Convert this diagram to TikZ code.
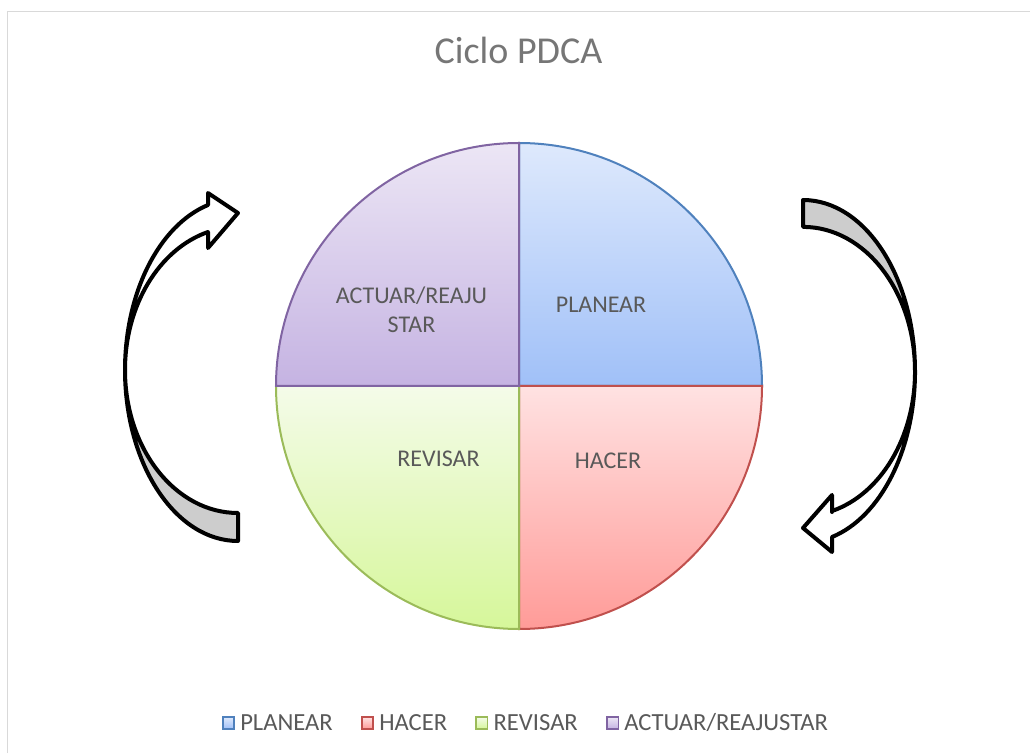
\documentclass[tikz,border=0pt]{standalone}
\usepackage{fontspec}
\setmainfont{Carlito}
\usetikzlibrary{positioning}
\definecolor{txtgray}{RGB}{89,89,89}
\definecolor{titlegray}{RGB}{118,118,118}
\definecolor{framegray}{RGB}{217,217,217}
\definecolor{backgray}{RGB}{205,205,205}
\definecolor{planline}{RGB}{79,129,189}
\definecolor{plantop}{RGB}{222,233,252}
\definecolor{planbot}{RGB}{160,192,248}
\definecolor{hacline}{RGB}{192,80,77}
\definecolor{hactop}{RGB}{255,226,226}
\definecolor{hacbot}{RGB}{255,155,152}
\definecolor{revline}{RGB}{155,187,89}
\definecolor{revtop}{RGB}{244,251,233}
\definecolor{revbot}{RGB}{214,247,154}
\definecolor{actline}{RGB}{128,100,162}
\definecolor{acttop}{RGB}{236,230,245}
\definecolor{actbot}{RGB}{197,179,226}

\begin{document}
\begin{tikzpicture}[
            x=1pt, y=1pt,
            lbl/.style={font=\fontsize{24}{29}\selectfont, text=txtgray, inner sep=0pt, align=center},
            legtext/.style={lbl, font=\fontsize{24.6}{29}\selectfont, text height=15.8pt, text depth=0pt},
            slice/.style={line width=2pt, draw=#1line, top color=#1top, bottom color=#1bot},
            lgbox/.style={draw=#1line, line width=1.6pt, top color=#1top, bottom color=#1bot, minimum size=11.5pt, inner sep=0pt},
            rib/.style={draw=black, line width=4pt, line join=round}
        ]
            \useasboundingbox (0,0) rectangle (1030,753);
            \draw[framegray, line width=1pt] (7,0) -- (7,741) -- (1030,741);

            \node[font=\fontsize{38}{46}\selectfont, text=titlegray, inner sep=0pt] (title) at (518.5,703) {Ciclo PDCA};

            % pie
            \coordinate (o) at (519,367);
            \draw[slice=plan] (o) -- ++(243,0) arc[start angle=0, end angle=90, radius=243pt] -- cycle;
            \draw[slice=hac] (o) -- ++(0,-243) arc[start angle=270, end angle=360, radius=243pt] -- cycle;
            \draw[slice=rev] (o) -- ++(-243,0) arc[start angle=180, end angle=270, radius=243pt] -- cycle;
            \draw[slice=act] (o) -- ++(0,243) arc[start angle=90, end angle=180, radius=243pt] -- cycle;

            \node[lbl] (planear) at (601,448.5) {PLANEAR};
            \node[lbl] (hacer) at (608,292.5) {HACER};
            \node[lbl] (revisar) at (438.5,294) {REVISAR};
            \node[lbl] (actuar) at (411.5,443) {ACTUAR/REAJU\\STAR};

            % left arrow
            \draw[rib, fill=backgray] (238,212) arc[start angle=270, end angle=180, x radius=113pt, y radius=171pt]
                arc[start angle=180, end angle=270, x radius=113pt, y radius=143pt] -- cycle;
            \draw[rib, fill=white] (208,520) -- (208,505) -- (238,540) -- (208,560) -- (208,548)
                arc[start angle=105.4, end angle=180, x radius=113pt, y radius=171pt]
                arc[start angle=180, end angle=105.4, x radius=113pt, y radius=143pt] -- cycle;

            % right arrow
            \draw[rib, fill=backgray] (803,553) arc[start angle=90, end angle=0, x radius=112pt, y radius=171.4pt]
                arc[start angle=0, end angle=90, x radius=112pt, y radius=144.5pt] -- cycle;
            \draw[rib, fill=white] (832,241) -- (832,258) -- (803,225) -- (832,201) -- (832,216)
                arc[start angle=-75, end angle=0, x radius=112pt, y radius=171.4pt]
                arc[start angle=0, end angle=-75, x radius=112pt, y radius=144.5pt] -- cycle;

            % legend
            \node[lgbox=plan] (lg1) at (228.5,30) {};
            \node[legtext, right=5pt of lg1] (lt1) {PLANEAR};
            \node[lgbox=hac, right=28pt of lt1] (lg2) {};
            \node[legtext, right=5pt of lg2] (lt2) {HACER};
            \node[lgbox=rev, right=28pt of lt2] (lg3) {};
            \node[legtext, right=5pt of lg3] (lt3) {REVISAR};
            \node[lgbox=act, right=28pt of lt3] (lg4) {};
            \node[legtext, right=5pt of lg4] (lt4) {ACTUAR/REAJUSTAR};
        \end{tikzpicture}
\end{document}
